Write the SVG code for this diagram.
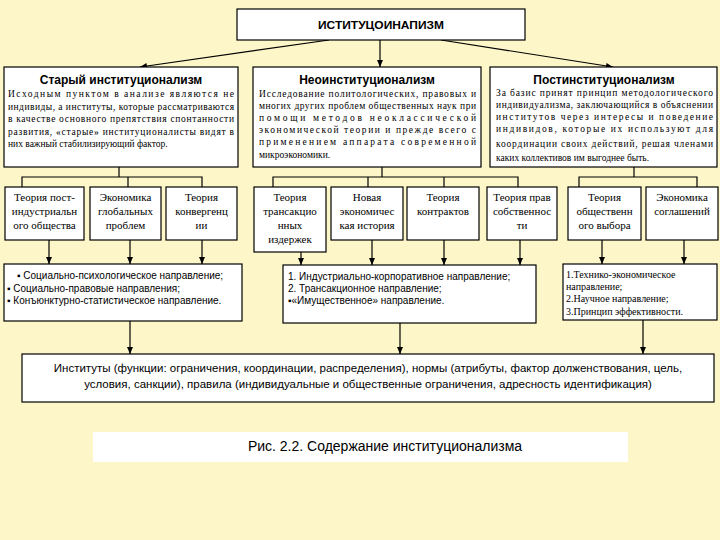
<svg xmlns="http://www.w3.org/2000/svg" width="720" height="540" viewBox="0 0 720 540">
<defs>
<marker id="ah" markerWidth="8" markerHeight="8" refX="7" refY="4" orient="auto" markerUnits="userSpaceOnUse">
<path d="M0,1 L7,4 L0,7 Z" fill="#000"/>
</marker>
<style>
.bx{fill:#fff;stroke:#000;stroke-width:1.2}
.ln{fill:none;stroke:#000;stroke-width:1.2}
.ar{fill:none;stroke:#000;stroke-width:1.2;marker-end:url(#ah)}
.hd{font-family:"Liberation Sans",Arial,sans-serif;font-weight:bold;font-size:12px;text-anchor:middle}
.bd{font-family:"Liberation Serif","Times New Roman",serif;font-size:9.5px}
.sm{font-family:"Liberation Serif","Times New Roman",serif;font-size:11px;text-anchor:middle}
.ls{font-family:"Liberation Sans",Arial,sans-serif;font-size:10px}
.lsr{font-family:"Liberation Serif","Times New Roman",serif;font-size:10px}
.bt{font-family:"Liberation Sans",Arial,sans-serif;font-size:11.5px;text-anchor:middle}
</style>
</defs>
<rect width="720" height="540" fill="#FDF6C9"/>

<g id="connectors">
<line class="ar" x1="329" y1="40" x2="140" y2="67"/>
<line class="ar" x1="380" y1="40" x2="380" y2="67"/>
<line class="ar" x1="441" y1="40" x2="613" y2="67"/>
<polyline class="ln" points="119,167 119,177"/>
<polyline class="ln" points="22,187 22,177 202,177 202,187"/>
<line class="ln" x1="128" y1="177" x2="128" y2="187"/>
<polyline class="ln" points="382,167 382,177"/>
<polyline class="ln" points="273,187 273,177 518,177 518,187"/>
<line class="ln" x1="368" y1="177" x2="368" y2="187"/>
<line class="ln" x1="444" y1="177" x2="444" y2="187"/>
<polyline class="ln" points="634,167 634,177"/>
<polyline class="ln" points="579,187 579,177 697,177 697,187"/>
<line class="ar" x1="49" y1="240" x2="49" y2="264"/>
<line class="ar" x1="130" y1="240" x2="130" y2="264"/>
<line class="ar" x1="202" y1="240" x2="202" y2="264"/>
<line class="ar" x1="301" y1="252" x2="301" y2="265"/>
<line class="ar" x1="372" y1="240" x2="372" y2="265"/>
<line class="ar" x1="444" y1="240" x2="444" y2="265"/>
<line class="ar" x1="520" y1="240" x2="520" y2="265"/>
<line class="ar" x1="602" y1="240" x2="602" y2="264"/>
<line class="ar" x1="684" y1="240" x2="684" y2="264"/>
<line class="ar" x1="130" y1="321" x2="130" y2="354"/>
<line class="ar" x1="400" y1="323" x2="400" y2="354"/>
<line class="ar" x1="643" y1="320" x2="643" y2="354"/>
</g>

<g id="root">
<rect class="bx" x="237" y="9" width="288" height="31"/>
<text x="381" y="29" font-family="'Liberation Sans',Arial,sans-serif" font-weight="bold" font-size="11px" text-anchor="middle" textLength="126" lengthAdjust="spacingAndGlyphs">ИСТИТУЦОИНАПИЗМ</text>
</g>

<g id="old">
<rect class="bx" x="4" y="67" width="234" height="100"/>
<text class="hd" x="121" y="84">Старый институционализм</text>
<text class="bd" x="8" y="97" textLength="226" lengthAdjust="spacing">Исходным пунктом в анализе являются не</text>
<text class="bd" x="8" y="109.5" textLength="226" lengthAdjust="spacing">индивиды, а институты, которые рассматриваются</text>
<text class="bd" x="8" y="122" textLength="226" lengthAdjust="spacing">в качестве основного препятствия спонтанности</text>
<text class="bd" x="8" y="134.5" textLength="226" lengthAdjust="spacing">развития, «старые» институционалисты видят в</text>
<text class="bd" x="8" y="147">них важный стабилизирующий фактор.</text>
</g>

<g id="neo">
<rect class="bx" x="253" y="67" width="228" height="100"/>
<text class="hd" x="367" y="84">Неоинституционализм</text>
<text class="bd" x="259" y="97" textLength="217" lengthAdjust="spacing">Исследование политологических, правовых и</text>
<text class="bd" x="259" y="109" textLength="217" lengthAdjust="spacing">многих других проблем общественных наук при</text>
<text class="bd" x="259" y="121" textLength="217" lengthAdjust="spacing">помощи методов неоклассической</text>
<text class="bd" x="259" y="133" textLength="217" lengthAdjust="spacing">экономической теории и прежде всего с</text>
<text class="bd" x="259" y="145" textLength="217" lengthAdjust="spacing">применением аппарата современной</text>
<text class="bd" x="259" y="158">микроэкономики.</text>
</g>

<g id="post">
<rect class="bx" x="490" y="67" width="227" height="100"/>
<text class="hd" x="604" y="84">Постинституционализм</text>
<text class="bd" x="496" y="96" textLength="217" lengthAdjust="spacing">За базис принят принцип методологического</text>
<text class="bd" x="496" y="108" textLength="217" lengthAdjust="spacing">индивидуализма, заключающийся в объяснении</text>
<text class="bd" x="496" y="120" textLength="217" lengthAdjust="spacing">институтов через интересы и поведение</text>
<text class="bd" x="496" y="132" textLength="217" lengthAdjust="spacing">индивидов, которые их используют для</text>
<text class="bd" x="496" y="147" textLength="217" lengthAdjust="spacing">координации своих действий, решая членами</text>
<text class="bd" x="496" y="161">каких коллективов им выгоднее быть.</text>
</g>

<g id="old1"><rect class="bx" x="5" y="187" width="79" height="53"/>
<text class="sm" x="44.5" y="201">Теория пост-</text><text class="sm" x="44.5" y="215">индустриальн</text><text class="sm" x="44.5" y="229">ого общества</text></g>
<g id="old2"><rect class="bx" x="90" y="187" width="71" height="53"/>
<text class="sm" x="125.5" y="201">Экономика</text><text class="sm" x="125.5" y="215">глобальных</text><text class="sm" x="125.5" y="229">проблем</text></g>
<g id="old3"><rect class="bx" x="166" y="187" width="71" height="53"/>
<text class="sm" x="201.5" y="201">Теория</text><text class="sm" x="201.5" y="215">конвергенц</text><text class="sm" x="201.5" y="229">ии</text></g>

<g id="neo1"><rect class="bx" x="254" y="187" width="72" height="65"/>
<text class="sm" x="290" y="201">Теория</text><text class="sm" x="290" y="215">трансакцио</text><text class="sm" x="290" y="229">нных</text><text class="sm" x="290" y="243">издержек</text></g>
<g id="neo2"><rect class="bx" x="331" y="187" width="72" height="53"/>
<text class="sm" x="367" y="201">Новая</text><text class="sm" x="367" y="215">экономичес</text><text class="sm" x="367" y="229">кая история</text></g>
<g id="neo3"><rect class="bx" x="407" y="187" width="72" height="53"/>
<text class="sm" x="443" y="201">Теория</text><text class="sm" x="443" y="215">контрактов</text></g>
<g id="neo4"><rect class="bx" x="487" y="187" width="70" height="53"/>
<text class="sm" x="522" y="201">Теория прав</text><text class="sm" x="522" y="215">собственнос</text><text class="sm" x="522" y="229">ти</text></g>

<g id="post1"><rect class="bx" x="568" y="187" width="73" height="53"/>
<text class="sm" x="604.5" y="201">Теория</text><text class="sm" x="604.5" y="215">общественн</text><text class="sm" x="604.5" y="229">ого выбора</text></g>
<g id="post2"><rect class="bx" x="646" y="187" width="72" height="53"/>
<text class="sm" x="682" y="201">Экономика</text><text class="sm" x="682" y="215">соглашений</text></g>

<g id="oldlist"><rect class="bx" x="4" y="264" width="238" height="57"/>
<text class="ls" x="17" y="279">▪ Социально-психологическое направление;</text>
<text class="ls" x="7" y="292">▪ Социально-правовые направления;</text>
<text class="ls" x="7" y="304">▪ Конъюнктурно-статистическое направление.</text></g>

<g id="neolist"><rect class="bx" x="283" y="265" width="253" height="58"/>
<text class="ls" x="288" y="280">1. Индустриально-корпоративное направление;</text>
<text class="ls" x="288" y="292">2. Трансакционное направление;</text>
<text class="ls" x="288" y="304">▪«Имущественное» направление.</text></g>

<g id="postlist"><rect class="bx" x="563" y="264" width="154" height="56"/>
<text class="lsr" x="566" y="278">1.Технико-экономическое</text>
<text class="lsr" x="566" y="290">направление;</text>
<text class="lsr" x="566" y="302">2.Научное направление;</text>
<text class="lsr" x="566" y="315">3.Принцип эффективности.</text></g>

<g id="institutes"><rect class="bx" x="22" y="354" width="692" height="48"/>
<text class="bt" x="368" y="372">Институты (функции: ограничения, координации, распределения), нормы (атрибуты, фактор долженствования, цель,</text>
<text class="bt" x="368" y="388">условия, санкции), правила (индивидуальные и общественные ограничения, адресность идентификация)</text></g>

<g id="caption"><rect x="93" y="432" width="535" height="30" fill="#fff"/>
<text x="385" y="451" font-family="'Liberation Sans',Arial,sans-serif" font-size="14px" text-anchor="middle">Рис. 2.2. Содержание институционализма</text></g>
</svg>
